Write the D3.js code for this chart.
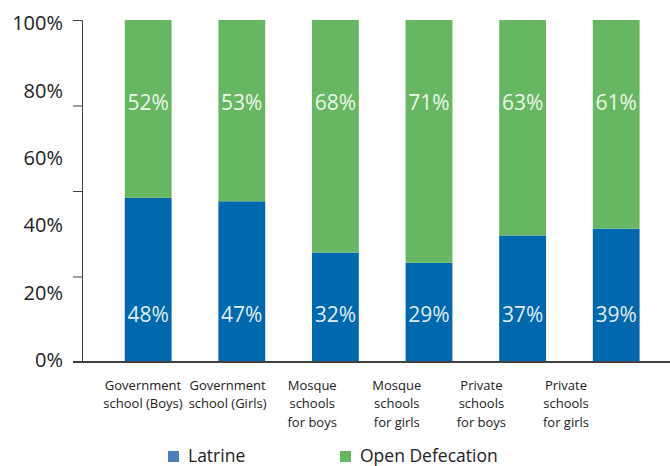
<!DOCTYPE html>
<html>
<head>
<meta charset="utf-8">
<script src="https://cdn.jsdelivr.net/npm/d3@7/dist/d3.min.js"></script>
<style>
  html, body { margin: 0; padding: 0; background: #fff; }
  svg { display: block; font-family: "Open Sans", "Noto Sans", sans-serif; }
</style>
</head>
<body>
<svg id="chart" width="670" height="466"></svg>
<script>
// School sanitation: share of students using a latrine vs. open defecation
const categories = [
  ["Government", "school (Boys)"],
  ["Government", "school (Girls)"],
  ["Mosque", "schools", "for boys"],
  ["Mosque", "schools", "for girls"],
  ["Private", "schools", "for boys"],
  ["Private", "schools", "for girls"]
];
const latrine = [48, 47, 32, 29, 37, 39];
const openDefecation = [52, 53, 68, 71, 63, 61];
const yTickLabels = ["0%", "20%", "40%", "60%", "80%", "100%"];
const seriesNames = ["Latrine", "Open Defecation"];

const colors = { latrine: "#0068AD", open: "#66B662" };
const legendColors = ["#4A7EBB", "#66B662"];

const svg = d3.select("#chart");
const keys = categories.map((c, i) => "c" + i);

const x = d3.scaleBand()
  .domain(keys)
  .range([78, 686.4])
  .paddingInner(0.5)
  .paddingOuter(0.5);

// category labels sit on their own evenly spaced positions
const xLabel = d3.scalePoint().domain(keys).range([143, 566]);

const y = d3.scaleLinear().domain([0, 100]).range([362, 20]);

const rows = keys.map((k, i) => ({ key: k, latrine: latrine[i], open: openDefecation[i] }));
const stacked = d3.stack().keys(["latrine", "open"])(rows);

// bars
svg.append("g").selectAll("g")
  .data(stacked)
  .join("g")
  .attr("fill", d => colors[d.key])
  .selectAll("rect")
  .data(d => d)
  .join("rect")
  .attr("x", d => x(d.data.key))
  .attr("width", x.bandwidth())
  .attr("y", d => y(d[1]))
  .attr("height", d => y(d[0]) - y(d[1]));

// value labels
const labelG = svg.append("g")
  .attr("fill", "#fff")
  .attr("fill-opacity", 0.9)
  .attr("font-size", 21)
  .attr("text-anchor", "middle");
labelG.selectAll("text.lat")
  .data(rows)
  .join("text")
  .attr("class", "lat")
  .attr("x", d => x(d.key) + x.bandwidth() / 2)
  .attr("y", y(14))
  .attr("dy", "0.36em")
  .text(d => d.latrine + "%");
labelG.selectAll("text.open")
  .data(rows)
  .join("text")
  .attr("class", "open")
  .attr("x", d => x(d.key) + x.bandwidth() / 2)
  .attr("y", y(76))
  .attr("dy", "0.36em")
  .text(d => d.open + "%");

// y axis: tick marks on quarters, labels every 20%
const yAxis = svg.append("g")
  .attr("transform", "translate(82,0)")
  .call(d3.axisLeft(y).tickValues([0, 25, 50, 75, 100]).tickSize(9).tickFormat(""));
yAxis.select(".domain").attr("stroke", "#404040");
yAxis.selectAll(".tick line").attr("stroke", "#404040");

const labelY = d3.scaleLinear().domain([0, yTickLabels.length - 1]).range([360, 23]);
svg.append("g")
  .attr("font-size", 20)
  .attr("fill", "#222")
  .attr("text-anchor", "end")
  .selectAll("text")
  .data(yTickLabels)
  .join("text")
  .attr("x", 63)
  .attr("y", (d, i) => labelY(i))
  .attr("dy", "0.36em")
  .text(d => d);

// x axis baseline
svg.append("line")
  .attr("x1", 73).attr("x2", 670)
  .attr("y1", y(0)).attr("y2", y(0))
  .attr("stroke", "#404040")
  .attr("stroke-width", 2);

// category labels
const catG = svg.append("g")
  .attr("font-size", 13)
  .attr("fill", "#222")
  .attr("text-anchor", "middle");
categories.forEach((lines, i) => {
  const t = catG.append("text").attr("x", xLabel(keys[i])).attr("y", 385).attr("dy", "0.36em");
  lines.forEach((ln, j) => {
    t.append("tspan").attr("x", xLabel(keys[i])).attr("dy", j === 0 ? "0.36em" : 18.5).text(ln);
  });
});

// legend
const legendX = [168, 340];
const leg = svg.append("g");
seriesNames.forEach((name, i) => {
  leg.append("rect")
    .attr("x", legendX[i]).attr("y", 451)
    .attr("width", 11).attr("height", 11)
    .attr("fill", legendColors[i]);
  leg.append("text")
    .attr("x", legendX[i] + 20).attr("y", 462)
    .attr("font-size", 17.5)
    .attr("fill", "#222")
    .text(name);
});
</script>
</body>
</html>
